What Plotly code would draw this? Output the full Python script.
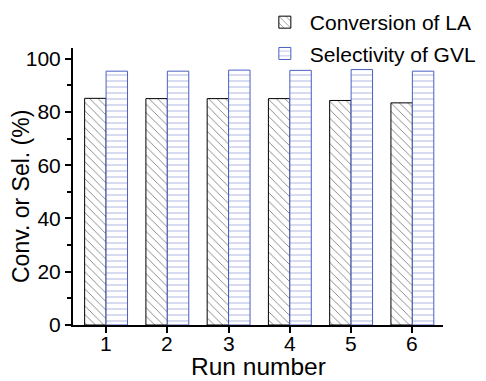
import plotly.graph_objects as go

runs = [1, 2, 3, 4, 5, 6]
conversion = [85.1, 85.0, 85.0, 85.0, 84.3, 83.4]
selectivity = [95.3, 95.3, 95.7, 95.6, 95.9, 95.3]
y_ticks = [0, 20, 40, 60, 80, 100]

BLUE = "#4a5fc1"
FONT = "Liberation Sans, Arial, sans-serif"

fig = go.Figure()
fig.add_trace(go.Bar(
    x=runs, y=conversion, name="Conversion of LA", legendgroup="a",
    marker=dict(color="white", line=dict(color="black", width=1),
                pattern=dict(shape="\\", fgcolor="black", bgcolor="white", size=6, solidity=0.15)),
))
fig.add_trace(go.Bar(
    x=runs, y=selectivity, name="Selectivity of GVL", legendgroup="b",
    marker=dict(color="white", line=dict(color=BLUE, width=1),
                pattern=dict(shape="-", fgcolor=BLUE, bgcolor="white", size=6, solidity=0.15)),
))

annotations = []
for r in runs:
    annotations.append(dict(x=r, y=0, xref="x", yref="paper", text=str(r),
                            showarrow=False, yanchor="middle", yshift=-18,
                            font=dict(size=21)))
annotations.append(dict(x=0.5, y=0, xref="paper", yref="paper", text="Run number",
                        showarrow=False, yanchor="bottom", yshift=-56, borderpad=0,
                        font=dict(size=24.5)))
annotations.append(dict(x=0, y=0.462, xref="paper", yref="paper", text="Conv. or Sel. (%)",
                        showarrow=False, xanchor="center", yanchor="middle", xshift=-52,
                        textangle=-90, font=dict(size=23)))

fig.update_layout(
    width=486, height=381,
    margin=dict(l=73, r=43, t=48, b=56, autoexpand=False),
    paper_bgcolor="white", plot_bgcolor="white",
    barmode="group", bargap=0.3, bargroupgap=0,
    font=dict(family=FONT, color="black", size=21),
    showlegend=True,
    legend=dict(x=0.505, y=1.166, xanchor="left", yanchor="top",
                bgcolor="rgba(0,0,0,0)", font=dict(size=21),
                tracegroupgap=1, itemwidth=40),
    annotations=annotations,
    xaxis=dict(range=[0.46, 6.5], tickvals=runs, showticklabels=False,
               automargin=False,
               showline=True, linecolor="black", linewidth=2, ticks="outside",
               ticklen=6, tickwidth=2, tickcolor="black", showgrid=False, zeroline=False),
    yaxis=dict(range=[0, 104], tickvals=y_ticks,
               automargin=False,
               showline=True, linecolor="black", linewidth=2, ticks="outside",
               ticklen=6, tickwidth=2, tickcolor="black", showgrid=False, zeroline=False,
               minor=dict(tickvals=[10, 30, 50, 70, 90], ticks="outside", ticklen=4,
                          tickwidth=2, tickcolor="black"),
               tickfont=dict(size=21)),
)

fig.write_html("out.html")
